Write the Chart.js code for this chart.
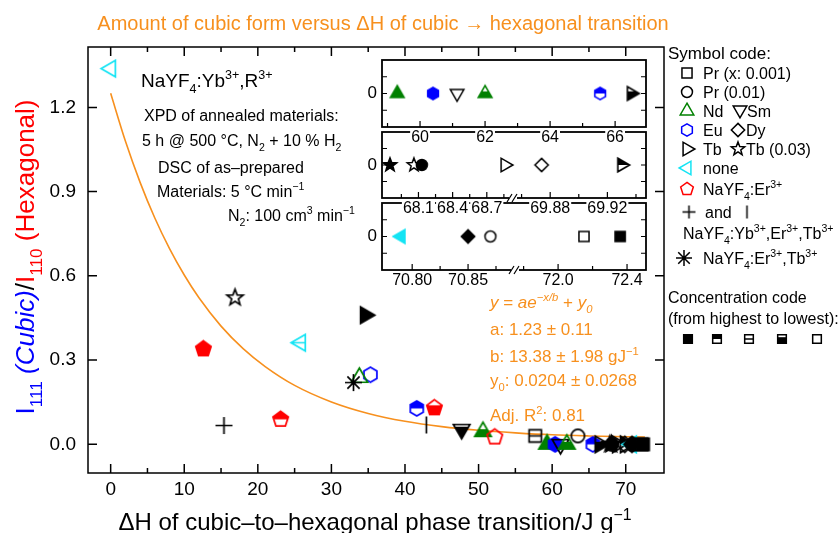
<!DOCTYPE html>
<html>
<head>
<meta charset="utf-8">
<script src="https://cdn.jsdelivr.net/npm/chart.js@4.4.1/dist/chart.umd.min.js"></script>
<style>
  html, body { margin: 0; padding: 0; background: #fff; }
  #wrap { position: relative; width: 838px; height: 533px; overflow: hidden; }
  #wrap canvas { position: absolute; }
</style>
</head>
<body>
<div id="wrap">
  <canvas id="main" width="838" height="533" style="left:0;top:0;width:838px;height:533px"></canvas>
  <canvas id="panel3"></canvas>
  <canvas id="panel2"></canvas>
  <canvas id="panel1"></canvas>
</div>
<script>
// ---- data ----
// points above the baseline (ΔH in J/g, I111/I110 ratio)
const mainSample = ['none', 'Tb03', 'Er', 'none', 'Tb', 'Eu', 'Nd', 'ErTb', 'YbErTbPlus', 'Er', 'Eu', 'Er', 'YbErTbBar', 'Sm', 'Nd', 'Er', 'Pr', 'Pr01'];
const mainLevel = [5, 5, 1, 3, 1, 5, 5, 0, 0, 2, 2, 4, 0, 4, 4, 5, 3, 5];
const mainDH = [0, 16.9, 12.6, 25.8, 34.6, 35.3, 33.8, 33.0, 15.4, 23.1, 41.6, 44.0, 42.9, 47.7, 50.6, 52.2, 57.7, 63.5];
const mainRatio = [1.338, 0.522, 0.340, 0.362, 0.460, 0.248, 0.238, 0.220, 0.067, 0.089, 0.128, 0.130, 0.069, 0.054, 0.045, 0.026, 0.030, 0.030];

// points with ratio 0, spread out in the three insets
const zoomA_DH = [59.3, 60.4, 61.14, 62.0, 65.54, 66.5];
const zoomA_Sample = ['Nd', 'Eu', 'Sm', 'Nd', 'Eu', 'Tb'];
const zoomA_Level = [1, 1, 5, 4, 2, 4];
const zoomB_DH = [67.85, 68.06, 68.13, 68.86, 69.874, 69.93];
const zoomB_Sample = ['Tb03', 'Tb03', 'Pr01', 'Tb', 'Dy', 'Tb'];
const zoomB_Level = [1, 5, 1, 5, 5, 2];
const zoomC_DH = [70.79, 70.85, 70.87, 72.15, 72.36];
const zoomC_Sample = ['none', 'Dy', 'Pr01', 'Pr', 'Pr'];
const zoomC_Level = [1, 1, 5, 5, 1];

// inset axes
const zoomA_Range = [[58.83, 66.95]];
const zoomA_Ticks = [60, 62, 64, 66];
const zoomA_Labels = ['60', '62', '64', '66'];
const zoomA_Minor = [59, 61, 63, 65];
const zoomB_Range = [[67.78, 68.93], [69.854, 69.947]];
const zoomB_Ticks = [68.1, 68.4, 68.7, 69.88, 69.92];
const zoomB_Labels = ['68.1', '68.4', '68.7', '69.88', '69.92'];
const zoomB_Minor = [67.95, 68.25, 68.55, 68.85, 69.86, 69.9, 69.94];
const zoomC_Range = [[70.773, 70.892], [71.75, 72.51]];
const zoomC_Ticks = [70.8, 70.85, 72.0, 72.4];
const zoomC_Labels = ['70.80', '70.85', '72.0', '72.4'];
const zoomC_Minor = [70.825, 70.875, 71.8, 72.2];

// fitted curve as drawn
const fitDH = [0, 2, 4, 6, 8, 10, 12, 15, 18, 21, 25, 30, 35, 40, 45, 50, 55, 60, 65, 72.6];
const fitRatio = [1.25, 1.08, 0.933, 0.806, 0.697, 0.603, 0.522, 0.421, 0.341, 0.277, 0.21, 0.151, 0.11, 0.082, 0.063, 0.05, 0.041, 0.034, 0.03, 0.026];

// ---- styles ----
const FONT = '"Liberation Sans", Arial, Helvetica, sans-serif';
const ORANGE = '#f7901e';
const BLUE = '#0000ff';
const RED = '#ff0000';

const SAMPLE_STYLE = {
  Pr: { shape: 'square', color: '#000' },
  Pr01: { shape: 'circle', color: '#000' },
  Nd: { shape: 'triUp', color: '#008000' },
  Sm: { shape: 'triDown', color: '#000' },
  Eu: { shape: 'hexagon', color: '#0000ff' },
  Dy: { shape: 'diamond', color: '#000' },
  Tb: { shape: 'triRight', color: '#000' },
  Tb03: { shape: 'star', color: '#000' },
  none: { shape: 'triLeft', color: '#14e4f4' },
  Er: { shape: 'pentagon', color: '#ff0000' },
  YbErTbPlus: { shape: 'plus', color: '#000' },
  YbErTbBar: { shape: 'bar', color: '#000' },
  ErTb: { shape: 'asterisk', color: '#000' },
};

function polygon(ctx, n, rot, r) {
  for (let i = 0; i < n; i++) {
    const a = rot + (i * 2 * Math.PI) / n;
    if (i === 0) ctx.moveTo(r * Math.cos(a), r * Math.sin(a));
    else ctx.lineTo(r * Math.cos(a), r * Math.sin(a));
  }
  ctx.closePath();
}

function outline(ctx, shape, r) {
  const tr = r * 1.12;
  ctx.beginPath();
  switch (shape) {
    case 'square': ctx.rect(-r * 0.72, -r * 0.72, r * 1.44, r * 1.44); break;
    case 'circle': ctx.arc(0, 0, r * 0.78, 0, Math.PI * 2); break;
    case 'diamond': polygon(ctx, 4, -Math.PI / 2, r * 0.95); break;
    case 'triUp': polygon(ctx, 3, -Math.PI / 2, tr); break;
    case 'triDown': polygon(ctx, 3, Math.PI / 2, tr); break;
    case 'triLeft': polygon(ctx, 3, Math.PI, tr); break;
    case 'triRight': polygon(ctx, 3, 0, tr); break;
    case 'hexagon': polygon(ctx, 6, -Math.PI / 2, r * 0.88); break;
    case 'pentagon': polygon(ctx, 5, -Math.PI / 2, r * 0.95); break;
    case 'star':
      for (let i = 0; i < 10; i++) {
        const a = -Math.PI / 2 + (i * Math.PI) / 5;
        const rr = i % 2 ? r * 0.42 : r;
        if (i === 0) ctx.moveTo(rr * Math.cos(a), rr * Math.sin(a));
        else ctx.lineTo(rr * Math.cos(a), rr * Math.sin(a));
      }
      ctx.closePath();
      break;
  }
}

// level: 1 full, 2 top half, 3 middle line, 4 bottom part, 5 open
function drawMarker(ctx, sample, level, r, lw) {
  const st = SAMPLE_STYLE[sample];
  ctx.strokeStyle = st.color;
  ctx.fillStyle = st.color;
  ctx.lineWidth = lw;
  if (st.shape === 'plus' || st.shape === 'bar' || st.shape === 'asterisk') {
    ctx.beginPath();
    if (st.shape !== 'bar') {
      ctx.moveTo(-r, 0); ctx.lineTo(r, 0);
    }
    ctx.moveTo(0, -r); ctx.lineTo(0, r);
    if (st.shape === 'asterisk') {
      const d = r * 0.72;
      ctx.moveTo(-d, -d); ctx.lineTo(d, d);
      ctx.moveTo(-d, d); ctx.lineTo(d, -d);
    }
    ctx.stroke();
    return;
  }
  outline(ctx, st.shape, r);
  if (level === 1) {
    ctx.fill();
  } else if (level === 2 || level === 4) {
    ctx.save();
    ctx.clip();
    if (level === 2) ctx.fillRect(-r - 3, -r - 3, 2 * r + 6, r + 3);
    else ctx.fillRect(-r - 3, -r * 0.3, 2 * r + 6, 2 * r + 3);
    ctx.restore();
  } else if (level === 3) {
    ctx.save();
    ctx.clip();
    ctx.beginPath();
    ctx.moveTo(-r - 3, 0); ctx.lineTo(r + 3, 0);
    ctx.stroke();
    ctx.restore();
  }
  outline(ctx, st.shape, r);
  ctx.stroke();
}

const markerCache = {};
function marker(sample, level, size, lw = 1.7) {
  const key = sample + level + '_' + size;
  if (markerCache[key]) return markerCache[key];
  const c = document.createElement('canvas');
  c.width = c.height = Math.ceil(size + 8);
  const ctx = c.getContext('2d');
  ctx.translate(c.width / 2, c.height / 2);
  drawMarker(ctx, sample, level, size / 2, lw);
  markerCache[key] = c;
  return c;
}

// text with sub/superscripts; parts: {t, k:'sub'|'sup', c, i}
function rich(ctx, parts, x, baseline, size, align = 'left', color = '#000', family = FONT) {
  const items = parts.map((p) => {
    const fs = p.k ? size * 0.66 : size;
    const font = (p.i ? 'italic ' : '') + fs + 'px ' + family;
    ctx.font = font;
    return { p, font, w: ctx.measureText(p.t).width };
  });
  const total = items.reduce((s, m) => s + m.w, 0);
  let cx = align === 'center' ? x - total / 2 : align === 'right' ? x - total : x;
  ctx.textAlign = 'left';
  ctx.textBaseline = 'alphabetic';
  items.forEach((m) => {
    ctx.font = m.font;
    ctx.fillStyle = m.p.c || color;
    const dy = m.p.k === 'sub' ? size * 0.3 : m.p.k === 'sup' ? -size * 0.4 : 0;
    ctx.fillText(m.p.t, cx, baseline + dy);
    cx += m.w;
  });
}

function line(ctx, parts, x, yMid, size, color, align) {
  if (typeof parts === 'string') parts = [{ t: parts }];
  rich(ctx, parts, x, yMid + size * 0.36, size, align || 'left', color || '#000');
}

// ---- main chart ----
const allDH = mainDH.concat(zoomA_DH, zoomB_DH, zoomC_DH);
const allRatio = mainRatio.concat(zoomA_DH.map(() => 0), zoomB_DH.map(() => 0), zoomC_DH.map(() => 0));
const allSample = mainSample.concat(zoomA_Sample, zoomB_Sample, zoomC_Sample);
const allLevel = mainLevel.concat(zoomA_Level, zoomB_Level, zoomC_Level);
const allStyles = allSample.map((s, i) => marker(s, allLevel[i], 17));

const decorPlugin = {
  id: 'decor',
  afterDraw(chart) {
    const { ctx, chartArea: a, scales: { x, y } } = chart;
    ctx.save();
    ctx.strokeStyle = '#000';
    ctx.lineWidth = 1.5;
    ctx.strokeRect(a.left, a.top, a.right - a.left, a.bottom - a.top);
    ctx.beginPath();
    x.ticks.forEach((t) => {
      const px = x.getPixelForValue(t.value);
      ctx.moveTo(px, a.bottom); ctx.lineTo(px, a.bottom - 9);
      ctx.moveTo(px, a.top); ctx.lineTo(px, a.top + 9);
      const mx = x.getPixelForValue(t.value + 5);
      if (mx < a.right - 3) {
        ctx.moveTo(mx, a.bottom); ctx.lineTo(mx, a.bottom - 5);
        ctx.moveTo(mx, a.top); ctx.lineTo(mx, a.top + 5);
      }
    });
    y.ticks.forEach((t) => {
      const py = y.getPixelForValue(t.value);
      ctx.moveTo(a.left, py); ctx.lineTo(a.left + 9, py);
      ctx.moveTo(a.right, py); ctx.lineTo(a.right - 9, py);
    });
    ctx.stroke();

    // title
    line(ctx, 'Amount of cubic form versus ΔH of cubic → hexagonal transition', 383, 23, 20, ORANGE, 'center');
    // x axis title
    line(ctx, [{ t: 'ΔH of cubic–to–hexagonal phase transition/J g' }, { t: '−1', k: 'sup' }], 375, 521, 24, '#000', 'center');
    // y axis title
    ctx.save();
    ctx.translate(34, 257);
    ctx.rotate(-Math.PI / 2);
    rich(ctx, [
      { t: 'I', c: BLUE }, { t: '111', k: 'sub', c: BLUE }, { t: ' (Cubic)', c: BLUE, i: true },
      { t: '/', c: '#000' },
      { t: 'I', c: RED }, { t: '110', k: 'sub', c: RED }, { t: ' (Hexagonal)', c: RED },
    ], 0, 0, 26, 'center');
    ctx.restore();

    // experiment notes
    line(ctx, [{ t: 'NaYF' }, { t: '4', k: 'sub' }, { t: ':Yb' }, { t: '3+', k: 'sup' }, { t: ',R' }, { t: '3+', k: 'sup' }], 141, 80, 19);
    line(ctx, 'XPD of annealed materials:', 144, 115, 16);
    line(ctx, [{ t: '5 h @ 500 °C, N' }, { t: '2', k: 'sub' }, { t: ' + 10 % H' }, { t: '2', k: 'sub' }], 142, 140, 16);
    line(ctx, 'DSC of as–prepared', 158, 167, 16);
    line(ctx, [{ t: 'Materials: 5 °C min' }, { t: '−1', k: 'sup' }], 157, 191, 16);
    line(ctx, [{ t: 'N' }, { t: '2', k: 'sub' }, { t: ': 100 cm' }, { t: '3', k: 'sup' }, { t: ' min' }, { t: '−1', k: 'sup' }], 228, 215, 16);

    // fit results
    line(ctx, [{ t: 'y', i: true }, { t: ' = ' }, { t: 'ae', i: true }, { t: '−x/b', k: 'sup', i: true }, { t: ' + ' }, { t: 'y', i: true }, { t: '0', k: 'sub', i: true }], 490, 302, 17, ORANGE);
    line(ctx, 'a: 1.23 ± 0.11', 490, 329, 17, ORANGE);
    line(ctx, [{ t: 'b: 13.38 ± 1.98 gJ' }, { t: '−1', k: 'sup' }], 490, 356, 17, ORANGE);
    line(ctx, [{ t: 'y' }, { t: '0', k: 'sub' }, { t: ': 0.0204 ± 0.0268' }], 490, 380, 17, ORANGE);
    line(ctx, [{ t: 'Adj. R' }, { t: '2', k: 'sup' }, { t: ': 0.81' }], 490, 415, 17, ORANGE);

    // symbol legend
    const put = (s, lv, cx, cy, size) => {
      const m = marker(s, lv, size || 14, 1.5);
      ctx.drawImage(m, cx - m.width / 2, cy - m.height / 2);
    };
    line(ctx, 'Symbol code:', 668, 53, 17);
    put('Pr', 5, 687, 73); line(ctx, 'Pr (x: 0.001)', 703, 73, 16);
    put('Pr01', 5, 687, 92); line(ctx, 'Pr (0.01)', 703, 92, 16);
    put('Nd', 5, 687, 111); line(ctx, 'Nd', 703, 111, 16);
    put('Sm', 5, 740, 110); line(ctx, 'Sm', 747, 111, 16);
    put('Eu', 5, 687, 130); line(ctx, 'Eu', 703, 130, 16);
    put('Dy', 5, 738, 130); line(ctx, 'Dy', 746, 130, 16);
    put('Tb', 5, 687, 149); line(ctx, 'Tb', 703, 149, 16);
    put('Tb03', 5, 738, 149); line(ctx, 'Tb (0.03)', 746, 149, 16);
    put('none', 5, 687, 168); line(ctx, 'none', 703, 168, 16);
    put('Er', 5, 687, 189); line(ctx, [{ t: 'NaYF' }, { t: '4', k: 'sub' }, { t: ':Er' }, { t: '3+', k: 'sup' }], 703, 189, 16);
    put('YbErTbPlus', 0, 689, 212, 13); line(ctx, 'and', 705, 212, 16); put('YbErTbBar', 0, 747, 212, 13);
    line(ctx, [{ t: 'NaYF' }, { t: '4', k: 'sub' }, { t: ':Yb' }, { t: '3+', k: 'sup' }, { t: ',Er' }, { t: '3+', k: 'sup' }, { t: ',Tb' }, { t: '3+', k: 'sup' }], 683, 233, 16);
    put('ErTb', 0, 684, 258, 16); line(ctx, [{ t: 'NaYF' }, { t: '4', k: 'sub' }, { t: ':Er' }, { t: '3+', k: 'sup' }, { t: ',Tb' }, { t: '3+', k: 'sup' }], 703, 258, 16);
    line(ctx, 'Concentration code', 668, 297, 16);
    line(ctx, '(from highest to lowest):', 668, 318, 16);
    [688, 717, 749, 782, 817].forEach((cx, i) => put('Pr', i + 1, cx, 339, 12));
    ctx.restore();
  },
};

new Chart(document.getElementById('main'), {
  type: 'scatter',
  data: {
    datasets: [
      {
        data: allDH.map((v, i) => ({ x: v, y: allRatio[i] })),
        pointStyle: (c) => allStyles[c.dataIndex],
        pointRadius: 6,
        order: 0,
      },
      {
        data: fitDH.map((v, i) => ({ x: v, y: fitRatio[i] })),
        showLine: true,
        borderColor: ORANGE,
        borderWidth: 1.6,
        pointRadius: 0,
        cubicInterpolationMode: 'monotone',
        order: 1,
      },
    ],
  },
  options: {
    responsive: false,
    animation: false,
    events: [],
    layout: { padding: { top: 47, right: 174, left: 0, bottom: 0 } },
    plugins: { legend: { display: false }, tooltip: { enabled: false } },
    scales: {
      x: {
        type: 'linear',
        min: -3.08,
        max: 75.2,
        grid: { display: false, drawTicks: false },
        border: { display: false },
        ticks: { stepSize: 10, includeBounds: false, color: '#000', padding: 5, font: { family: FONT, size: 19 } },
        afterFit: (s) => { s.height = 60; },
      },
      y: {
        min: -0.102,
        max: 1.415,
        grid: { display: false, drawTicks: false },
        border: { display: false },
        ticks: { stepSize: 0.3, includeBounds: false, color: '#000', padding: 12, font: { family: FONT, size: 19 }, callback: (v) => v.toFixed(1) },
        afterFit: (s) => { s.width = 88; },
      },
    },
  },
  plugins: [decorPlugin],
});

// ---- insets with broken x axes ----
const brokenAxes = {};
class BrokenScale extends Chart.LinearScale {
  getPixelForValue(value) {
    const b = brokenAxes[this.chart.canvas.id];
    const r = b.ranges;
    let f;
    if (r.length === 1) f = (value - r[0][0]) / (r[0][1] - r[0][0]);
    else if (value <= r[0][1]) f = ((value - r[0][0]) / (r[0][1] - r[0][0])) * b.split;
    else f = b.split + ((value - r[1][0]) / (r[1][1] - r[1][0])) * (1 - b.split);
    return this.getPixelForDecimal(f);
  }
}
BrokenScale.id = 'broken';
BrokenScale.defaults = Chart.LinearScale.defaults;
Chart.register(BrokenScale);

const panels = [
  { id: 'panel1', top: 60, bottom: 127, dh: zoomA_DH, sample: zoomA_Sample, level: zoomA_Level, ranges: zoomA_Range, split: 1, ticks: zoomA_Ticks, labels: zoomA_Labels, minor: zoomA_Minor },
  { id: 'panel2', top: 132, bottom: 198, dh: zoomB_DH, sample: zoomB_Sample, level: zoomB_Level, ranges: zoomB_Range, split: 131 / 264, ticks: zoomB_Ticks, labels: zoomB_Labels, minor: zoomB_Minor },
  { id: 'panel3', top: 203, bottom: 270, dh: zoomC_DH, sample: zoomC_Sample, level: zoomC_Level, ranges: zoomC_Range, split: 133 / 264, ticks: zoomC_Ticks, labels: zoomC_Labels, minor: zoomC_Minor },
];

const BOX_LEFT = 382, BOX_RIGHT = 646, CANVAS_LEFT = 338, CANVAS_W = 320;

panels.forEach((p) => {
  const cv = document.getElementById(p.id);
  const h = p.bottom - p.top + 8 + 26;
  cv.width = CANVAS_W; cv.height = h;
  cv.style.left = CANVAS_LEFT + 'px';
  cv.style.top = (p.top - 8) + 'px';
  cv.style.width = CANVAS_W + 'px';
  cv.style.height = h + 'px';
  brokenAxes[p.id] = { ranges: p.ranges, split: p.split };
  const styles = p.sample.map((s, i) => marker(s, p.level[i], 14, 1.6));

  const panelDecor = {
    id: 'panelDecor',
    beforeDatasetsDraw(chart) {
      const { ctx, chartArea: a } = chart;
      ctx.save();
      ctx.fillStyle = '#fff';
      ctx.fillRect(a.left, a.top, a.right - a.left, a.bottom - a.top);
      ctx.restore();
    },
    afterDraw(chart) {
      const { ctx, chartArea: a, scales: { x, y } } = chart;
      ctx.save();
      ctx.strokeStyle = '#000';
      ctx.lineWidth = 1.8;
      ctx.strokeRect(a.left, a.top, a.right - a.left, a.bottom - a.top);
      ctx.lineWidth = 1.2;
      ctx.beginPath();
      p.ticks.forEach((v) => {
        const px = x.getPixelForValue(v);
        ctx.moveTo(px, a.bottom); ctx.lineTo(px, a.bottom - 6);
      });
      p.minor.forEach((v) => {
        const px = x.getPixelForValue(v);
        ctx.moveTo(px, a.bottom); ctx.lineTo(px, a.bottom - 4);
      });
      [-0.5, 0, 0.5].forEach((v) => {
        const py = y.getPixelForValue(v);
        ctx.moveTo(a.left, py); ctx.lineTo(a.left + 5, py);
        ctx.moveTo(a.right, py); ctx.lineTo(a.right - 5, py);
      });
      ctx.stroke();
      if (p.ranges.length > 1) {
        const bx = x.getPixelForValue(p.ranges[0][1]);
        ctx.fillStyle = '#fff';
        ctx.fillRect(bx - 4, a.bottom - 3, 8, 6);
        ctx.beginPath();
        ctx.moveTo(bx - 6, a.bottom + 4); ctx.lineTo(bx - 1, a.bottom - 4);
        ctx.moveTo(bx - 1, a.bottom + 4); ctx.lineTo(bx + 4, a.bottom - 4);
        ctx.stroke();
      }
      ctx.font = '17px ' + FONT;
      ctx.fillStyle = '#000';
      ctx.textAlign = 'right';
      ctx.textBaseline = 'middle';
      ctx.fillText('0', a.left - 5, y.getPixelForValue(0));
      ctx.font = '16px ' + FONT;
      ctx.textAlign = 'center';
      p.ticks.forEach((v, i) => {
        const px = x.getPixelForValue(v);
        const w = ctx.measureText(p.labels[i]).width;
        ctx.fillStyle = '#fff';
        ctx.fillRect(px - w / 2 - 1, a.bottom + 3, w + 2, 16);
        ctx.fillStyle = '#000';
        ctx.fillText(p.labels[i], px, a.bottom + 11);
      });
      ctx.restore();
    },
  };

  new Chart(cv, {
    type: 'scatter',
    data: {
      datasets: [{
        data: p.dh.map((v) => ({ x: v, y: 0 })),
        pointStyle: (c) => styles[c.dataIndex],
        pointRadius: 6,
      }],
    },
    options: {
      responsive: false,
      animation: false,
      events: [],
      layout: { padding: { left: BOX_LEFT - CANVAS_LEFT, right: CANVAS_LEFT + CANVAS_W - BOX_RIGHT, top: 8, bottom: 26 } },
      plugins: { legend: { display: false }, tooltip: { enabled: false } },
      scales: {
        x: { type: 'broken', display: false, min: p.ranges[0][0], max: p.ranges[p.ranges.length - 1][1] },
        y: { display: false, min: -1, max: 1 },
      },
    },
    plugins: [panelDecor],
  });
});
</script>
</body>
</html>
